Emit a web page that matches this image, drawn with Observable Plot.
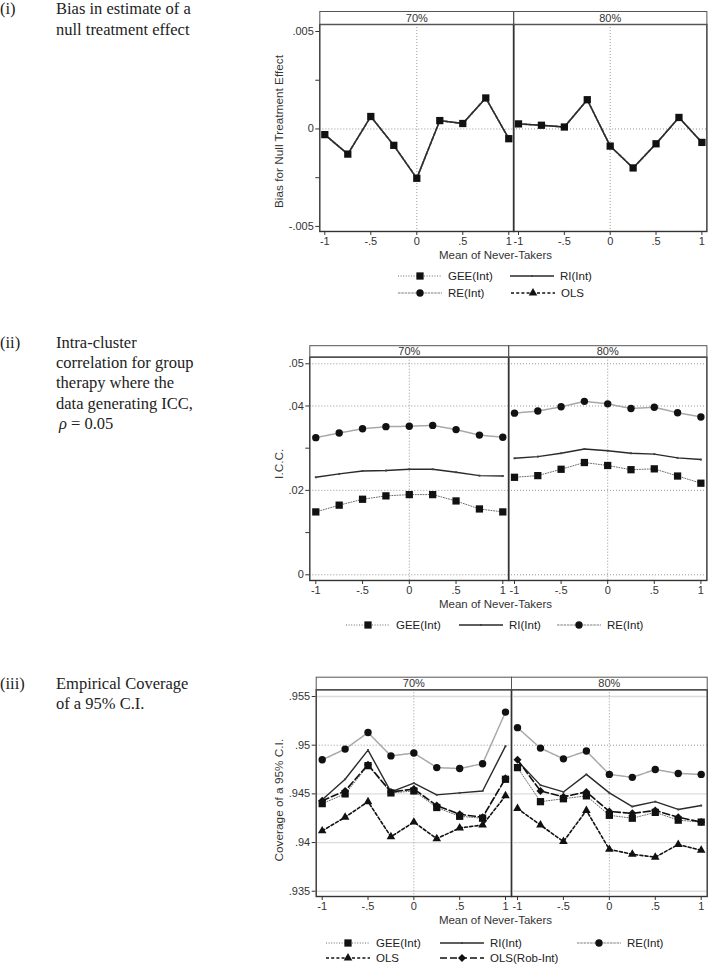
<!DOCTYPE html>
<html><head><meta charset="utf-8">
<script src="https://cdn.jsdelivr.net/npm/d3@7"></script>
<script src="https://cdn.jsdelivr.net/npm/@observablehq/plot@0.6"></script>
<style>
html,body{margin:0;padding:0;background:#fff;}
body{position:relative;width:709px;height:964px;overflow:hidden;}
.abs{position:absolute;}
.serif{font-family:"Liberation Serif","Times New Roman",serif;font-size:16.5px;line-height:20.4px;color:#222;white-space:nowrap;}
.leg{font-family:"Liberation Sans",Arial,sans-serif;font-size:11.5px;line-height:14px;color:#222;white-space:nowrap;}
svg{overflow:visible;}
</style></head><body>
<script>
// ---------------- data ----------------
const xValues = [-1, -0.75, -0.5, -0.25, 0, 0.25, 0.5, 0.75, 1];
const facets = ["70%", "80%"];
const seriesNames = ["GEE(Int)", "RI(Int)", "RE(Int)", "OLS", "OLS(Rob-Int)"];

// (i) bias (all estimators coincide)
const bias70 = [-0.00029, -0.00129, 0.00064, -0.00084, -0.00253, 0.00043, 0.00028, 0.00159, -0.0005];
const bias80 = [0.00026, 0.00019, 0.0001, 0.0015, -0.00088, -0.002, -0.00076, 0.00059, -0.00069];

// (ii) ICC
const iccGEE70 = [0.0149, 0.0165, 0.0179, 0.0187, 0.0190, 0.0190, 0.0175, 0.0156, 0.0149];
const iccRI70  = [0.0231, 0.0239, 0.0246, 0.0247, 0.0250, 0.0250, 0.0243, 0.0235, 0.0234];
const iccRE70  = [0.0325, 0.0336, 0.0346, 0.0351, 0.0352, 0.0354, 0.0344, 0.0331, 0.0326];
const iccGEE80 = [0.0231, 0.0235, 0.0250, 0.0266, 0.0259, 0.0249, 0.0251, 0.0234, 0.0217];
const iccRI80  = [0.0276, 0.0280, 0.0288, 0.0298, 0.0294, 0.0288, 0.0286, 0.0277, 0.0273];
const iccRE80  = [0.0383, 0.0388, 0.0398, 0.0411, 0.0405, 0.0394, 0.0397, 0.0384, 0.0374];

// (iii) coverage
const covRE70   = [0.9485, 0.9496, 0.9513, 0.9489, 0.9492, 0.9477, 0.9476, 0.9481, 0.9534];
const covRI70   = [0.9444, 0.9465, 0.9495, 0.9452, 0.9461, 0.9449, 0.9451, 0.9453, 0.9499];
const covGEE70  = [0.9440, 0.9450, 0.9479, 0.9451, 0.9453, 0.9436, 0.9427, 0.9425, 0.9465];
const covOLSR70 = [0.9443, 0.9453, 0.9480, 0.9452, 0.9455, 0.9438, 0.9429, 0.9426, 0.9466];
const covOLS70  = [0.9412, 0.9426, 0.9442, 0.9406, 0.9421, 0.9404, 0.9415, 0.9418, 0.9448];
const covRE80   = [0.9518, 0.9497, 0.9486, 0.9494, 0.9470, 0.9467, 0.9475, 0.9471, 0.9470];
const covRI80   = [0.9484, 0.9459, 0.9452, 0.9470, 0.9451, 0.9437, 0.9442, 0.9434, 0.9438];
const covGEE80  = [0.9477, 0.9442, 0.9445, 0.9448, 0.9428, 0.9425, 0.9431, 0.9423, 0.9421];
const covOLSR80 = [0.9485, 0.9453, 0.9447, 0.9452, 0.9432, 0.9430, 0.9433, 0.9426, 0.9421];
const covOLS80  = [0.9435, 0.9418, 0.9401, 0.9433, 0.9393, 0.9388, 0.9385, 0.9398, 0.9392];

// ticks
const xTicks = [-1, -0.5, 0, 0.5, 1];
const xTickLabels = ["-1", "-.5", "0", ".5", "1"];
const biasTicks = [-0.005, -0.0025, 0, 0.0025, 0.005];
const biasTickLabels = ["-.005", "", "0", "", ".005"];
const iccTicks = [0, 0.01, 0.02, 0.03, 0.04, 0.05];
const iccTickLabels = ["0", "", ".02", "", ".04", ".05"];
const covTicks = [0.935, 0.94, 0.945, 0.95, 0.955];
const covTickLabels = [".935", ".94", ".945", ".95", ".955"];

const xTitle = "Mean of Never-Takers";
const yTitles = ["Bias for Null Treatment Effect", "I.C.C.", "Coverage of a 95% C.I."];

// ---------------- styles ----------------
const style = {
  "GEE(Int)":     {stroke: "#6a6a6a", strokeWidth: 1,   dash: "1,1.6",  symbol: "square",   r: 4.1, fill: "#111"},
  "RI(Int)":      {stroke: "#2a2a2a", strokeWidth: 1.4, dash: null,     symbol: "square",   r: 1.1, fill: "#444"},
  "RE(Int)":      {stroke: "#a8a8a8", strokeWidth: 1.5, dash: "2.5,0.8", symbol: "circle", r: 3.7, fill: "#111"},
  "OLS":          {stroke: "#111",    strokeWidth: 1.6, dash: "3,2.2",  symbol: "triangle", r: 3.2, fill: "#111"},
  "OLS(Rob-Int)": {stroke: "#111",    strokeWidth: 1.6, dash: "7,3",    symbol: "diamond2", r: 3.6, fill: "#111"}
};
const d3Symbols = {square: d3.symbolSquare, circle: d3.symbolCircle, triangle: d3.symbolTriangle, diamond2: d3.symbolDiamond2};

function buildRows(map) {
  const rows = [];
  for (const name of Object.keys(map)) {
    map[name].forEach((v, i) => rows.push({x: xValues[i], y: v, s: name}));
  }
  return rows;
}
const fmt = (ticks, labels) => d => { const i = ticks.indexOf(d); return i < 0 ? "" : labels[i]; };

const panels = [
  {top: 0, height: 264, mt: 24, mb: 33, headerH: 13, inset: 5,
   left: {x: 270, w: 243.3, ml: 49.3}, right: {x: 513.3, w: 195.7, mr: 2.3},
   yDomain: [-0.00526, 0.00536], yTicks: biasTicks, yLabels: biasTickLabels,
   dottedY: [0], solidY: [], yTitle: yTitles[0], yTitleDx: -40.8, yTitleDy: 3.5, xTitleDx: 78.7,
   series: {
     "70%": {"OLS": bias70, "RE(Int)": bias70, "GEE(Int)": bias70, "RI(Int)": bias70},
     "80%": {"OLS": bias80, "RE(Int)": bias80, "GEE(Int)": bias80, "RI(Int)": bias80}
   },
   lineOrder: ["OLS", "RE(Int)", "GEE(Int)", "RI(Int)"], dotOrder: ["GEE(Int)"]},
  {top: 330, height: 283, mt: 26.7, mb: 33, headerH: 11.5, inset: 6,
   left: {x: 270, w: 238.3, ml: 39.3}, right: {x: 508.3, w: 200.7, mr: 2.3},
   yDomain: [-0.00135, 0.05156], yTicks: iccTicks, yLabels: iccTickLabels,
   dottedY: [0, 0.02, 0.04, 0.05], solidY: [], yTitle: yTitles[1], yTitleDx: -30.8, yTitleDy: -5, xTitleDx: 86.2,
   series: {
     "70%": {"GEE(Int)": iccGEE70, "RI(Int)": iccRI70, "RE(Int)": iccRE70},
     "80%": {"GEE(Int)": iccGEE80, "RI(Int)": iccRI80, "RE(Int)": iccRE80}
   },
   lineOrder: ["RE(Int)", "RI(Int)", "GEE(Int)"], dotOrder: ["RE(Int)", "RI(Int)", "GEE(Int)"]},
  {top: 660, height: 269, mt: 29.3, mb: 33, headerH: 12.6, inset: 6,
   left: {x: 270, w: 241, ml: 45.7}, right: {x: 511, w: 198, mr: 2.3},
   yDomain: [0.93446, 0.95569], yTicks: covTicks, yLabels: covTickLabels,
   dottedY: [0.95], solidY: [0.935, 0.94, 0.945, 0.955], yTitle: yTitles[2], yTitleDx: -37.2, yTitleDy: 7, xTitleDx: 81.6,
   series: {
     "70%": {"RE(Int)": covRE70, "RI(Int)": covRI70, "GEE(Int)": covGEE70, "OLS(Rob-Int)": covOLSR70, "OLS": covOLS70},
     "80%": {"RE(Int)": covRE80, "RI(Int)": covRI80, "GEE(Int)": covGEE80, "OLS(Rob-Int)": covOLSR80, "OLS": covOLS80}
   },
   lineOrder: ["RE(Int)", "RI(Int)", "GEE(Int)", "OLS(Rob-Int)", "OLS"], dotOrder: ["RE(Int)", "RI(Int)", "GEE(Int)", "OLS(Rob-Int)", "OLS"]}
];

function makePlot(p, fac, side) {
  const isLeft = side === "left";
  const g = p[side];
  const ml = isLeft ? g.ml : 0;
  const mr = isLeft ? 0 : g.mr;
  const frameH = p.height - p.mt - p.mb;
  const data = buildRows(p.series[fac]);
  const marks = [];
  if (p.solidY.length) marks.push(Plot.ruleY(p.solidY, {stroke: "#dcdcdc", strokeWidth: 1.3}));
  marks.push(Plot.ruleY(p.dottedY, {stroke: "#8c8c8c", strokeWidth: 0.9, strokeDasharray: "1,2"}));
  marks.push(Plot.ruleX([0], {stroke: "#8c8c8c", strokeWidth: 0.9, strokeDasharray: "1,2"}));
  for (const name of p.lineOrder) {
    const st = style[name];
    const opts = {x: "x", y: "y", stroke: st.stroke, strokeWidth: st.strokeWidth};
    if (st.dash) opts.strokeDasharray = st.dash;
    marks.push(Plot.line(data.filter(d => d.s === name), opts));
  }
  for (const name of p.dotOrder) {
    const st = style[name];
    marks.push(Plot.dot(data.filter(d => d.s === name), {x: "x", y: "y", symbol: st.symbol, r: st.r, fill: st.fill, stroke: "none"}));
  }
  marks.push(Plot.frame({stroke: "#333", strokeWidth: 1.4}));
  marks.push(Plot.frame({stroke: "#555", strokeWidth: 1, insetTop: -p.headerH, insetBottom: frameH}));
  marks.push(Plot.text([fac], {text: d => d, frameAnchor: "top", lineAnchor: "middle", textAnchor: "middle", dy: -p.headerH / 2, fontSize: 11, fill: "#333"}));
  if (isLeft) {
    marks.push(Plot.text([p.yTitle], {text: d => d, frameAnchor: "left", textAnchor: "middle", lineAnchor: "middle", rotate: -90, dx: p.yTitleDx, dy: p.yTitleDy, fontSize: 11.8, fill: "#333"}));
    marks.push(Plot.text([xTitle], {text: d => d, frameAnchor: "bottom", textAnchor: "middle", lineAnchor: "middle", dy: 24, dx: p.xTitleDx, fontSize: 11.5, fill: "#333"}));
  }
  return Plot.plot({
    width: g.w, height: p.height,
    marginTop: p.mt, marginBottom: p.mb, marginLeft: ml, marginRight: mr,
    x: {domain: [-1, 1], inset: p.inset, ticks: xTicks, tickFormat: fmt(xTicks, xTickLabels), tickSize: 4, tickPadding: 2, label: null},
    y: {domain: p.yDomain, ticks: p.yTicks, tickFormat: fmt(p.yTicks, p.yLabels), tickSize: 4, tickPadding: 2, label: null, axis: isLeft ? "left" : null},
    style: {fontFamily: "'Liberation Sans', Arial, sans-serif", fontSize: "11px", color: "#333", background: "transparent", overflow: "visible"},
    marks
  });
}

for (const p of panels) {
  for (const [fac, side] of [["70%", "left"], ["80%", "right"]]) {
    const div = document.createElement("div");
    div.className = "abs";
    div.style.left = p[side].x + "px";
    div.style.top = p.top + "px";
    div.style.width = p[side].w + "px";
    div.appendChild(makePlot(p, fac, side));
    document.body.appendChild(div);
  }
}

// ---------------- legends ----------------
function legendItem(name, x, y) {
  const st = style[name];
  const div = document.createElement("div");
  div.className = "abs";
  div.style.left = x + "px";
  div.style.top = (y - 7) + "px";
  const svg = d3.create("svg").attr("width", 44).attr("height", 14).style("position", "absolute").style("left", "0px").style("top", "0px");
  const ln = svg.append("line").attr("x1", 0).attr("x2", 44).attr("y1", 7).attr("y2", 7)
    .attr("stroke", st.stroke).attr("stroke-width", st.strokeWidth);
  if (st.dash) ln.attr("stroke-dasharray", st.dash);
  svg.append("path").attr("transform", "translate(22,7)")
    .attr("d", d3.symbol(d3Symbols[st.symbol], Math.PI * st.r * st.r)()).attr("fill", st.fill);
  div.appendChild(svg.node());
  const lab = document.createElement("div");
  lab.className = "abs leg";
  lab.style.left = "50px";
  lab.style.top = "0px";
  lab.textContent = name;
  div.appendChild(lab);
  document.body.appendChild(div);
}
const legends = [
  ["GEE(Int)", 398, 276], ["RI(Int)", 510, 276], ["RE(Int)", 398, 292.7], ["OLS", 511, 292.7],
  ["GEE(Int)", 346, 625], ["RI(Int)", 459, 625], ["RE(Int)", 557, 625],
  ["GEE(Int)", 326, 942.7], ["RI(Int)", 440, 942.7], ["RE(Int)", 577, 942.7],
  ["OLS", 326, 957.7], ["OLS(Rob-Int)", 440, 957.7]
];
for (const [n, x, y] of legends) legendItem(n, x, y);

// ---------------- side labels ----------------
const sideLabels = [
  {num: "(i)", top: -0.8, html: "Bias in estimate of a<br>null treatment effect"},
  {num: "(ii)", top: 332.5, html: "Intra-cluster<br>correlation for group<br>therapy where the<br>data generating ICC,<br><span style=\"padding-left:3px\"><i>ρ</i> = 0.05</span>"},
  {num: "(iii)", top: 673.5, html: "Empirical Coverage<br>of a 95% C.I."}
];
for (const s of sideLabels) {
  const a = document.createElement("div");
  a.className = "abs serif"; a.style.left = "0px"; a.style.top = s.top + "px"; a.textContent = s.num;
  document.body.appendChild(a);
  const b = document.createElement("div");
  b.className = "abs serif"; b.style.left = "56px"; b.style.top = s.top + "px"; b.innerHTML = s.html;
  document.body.appendChild(b);
}
</script>
</body></html>
